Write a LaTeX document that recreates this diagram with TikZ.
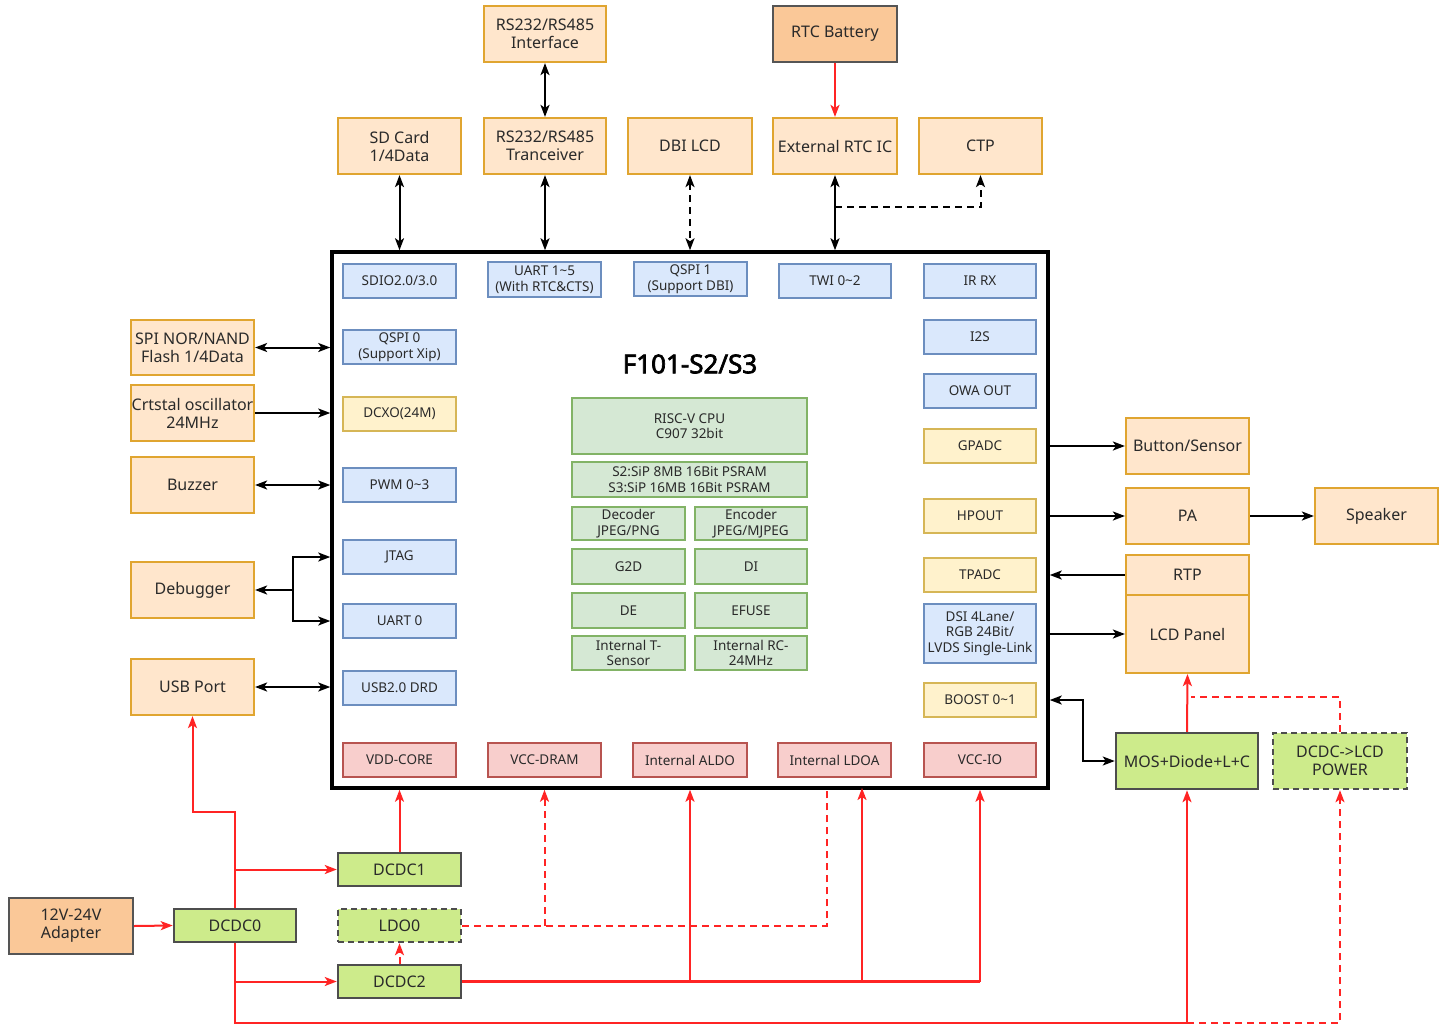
\documentclass[tikz,border=0pt]{standalone}
\usepackage{fontspec}
\setmainfont{Noto Sans}
\newfontfamily\titlefont{Noto Sans}[FakeBold=2.5]
\usetikzlibrary{arrows.meta}
\definecolor{orF}{HTML}{FFE6CC}
\definecolor{orD}{HTML}{E0A530}
\definecolor{btF}{HTML}{FAC898}
\definecolor{btD}{HTML}{555555}
\definecolor{blF}{HTML}{DAE8FC}
\definecolor{blD}{HTML}{6C8EBF}
\definecolor{yeF}{HTML}{FFF2CC}
\definecolor{yeD}{HTML}{D6B656}
\definecolor{piF}{HTML}{F8CECC}
\definecolor{piD}{HTML}{B85450}
\definecolor{lgF}{HTML}{D5E8D4}
\definecolor{lgD}{HTML}{82B366}
\definecolor{pgF}{HTML}{CDEB8B}
\definecolor{pgD}{HTML}{4D4D4D}
\definecolor{wire}{HTML}{FF2424}
\definecolor{txt}{HTML}{2A2A2A}
\newcommand{\mybox}[7]{\node[#2, minimum width={(#5-#3)*1pt}, minimum height={(#6-#4)*1pt}] (#1) at ({(#3+#5)/2},{(#4+#6)/2}) {#7};}
\tikzset{
  ext/.style={draw=orD, fill=orF, line width=2.2pt, text=txt, font=\fontsize{16}{18}\selectfont, align=center, inner sep=0pt},
  bat/.style={ext, draw=btD, fill=btF},
  ib/.style={draw=blD, fill=blF, line width=1.8pt, text=txt, font=\fontsize{13.5}{15.5}\selectfont, align=center, inner sep=0pt},
  iy/.style={ib, draw=yeD, fill=yeF},
  ip/.style={ib, draw=piD, fill=piF},
  ig/.style={ib, draw=lgD, fill=lgF},
  pw/.style={draw=pgD, fill=pgF, line width=2.5pt, text=txt, font=\fontsize{16}{18}\selectfont, align=center, inner sep=0pt},
  pwd/.style={pw, dash pattern=on 6pt off 4pt},
  chipbox/.style={draw=black, line width=3.5pt, inner sep=0pt},
  cn/.style={draw=black, line width=2pt},
  rd/.style={draw=wire, line width=2pt},
  dsh/.style={dash pattern=on 7pt off 5pt},
  tip/.style={-{Stealth[length=12pt,width=9pt,inset=3pt]}},
  bi/.style={{Stealth[length=12pt,width=9pt,inset=3pt]}-{Stealth[length=12pt,width=9pt,inset=3pt]}}
}
\begin{document}
\begin{tikzpicture}[x=1pt,y=-1pt]
\useasboundingbox[fill=white] (0,0) rectangle (1446,1028);
% chip
\mybox{chip}{chipbox}{332}{252}{1048}{788}{}
\node[text=black, font=\fontsize{26}{30}\titlefont] (title) at (690,364) {F101-S2/S3};
% top external
\mybox{rsi}{ext}{484}{6}{606}{62}{RS232/RS485\\Interface}
\mybox{bat}{bat}{773}{6}{897}{62}{RTC Battery}
\mybox{sd}{ext}{338}{118}{461}{174}{SD Card\\1/4Data}
\mybox{rst}{ext}{484}{118}{606}{174}{RS232/RS485\\Tranceiver}
\mybox{dbi}{ext}{628}{118}{752}{174}{DBI LCD}
\mybox{rtc}{ext}{773}{118}{897}{174}{External RTC IC}
\mybox{ctp}{ext}{919}{118}{1042}{174}{CTP}
% inner top row
\mybox{sdio}{ib}{343}{264}{456}{298}{SDIO2.0/3.0}
\mybox{uart}{ib}{488}{262}{601}{297}{UART 1\textasciitilde 5\\(With RTC\&CTS)}
\mybox{qspi1}{ib}{634}{262}{747}{296}{QSPI 1\\(Support DBI)}
\mybox{twi}{ib}{779}{264}{891}{298}{TWI 0\textasciitilde 2}
\mybox{irrx}{ib}{924}{264}{1036}{298}{IR RX}
% inner left col
\mybox{qspi0}{ib}{343}{330}{456}{364}{QSPI 0\\(Support Xip)}
\mybox{dcxo}{iy}{343}{397}{456}{431}{DCXO(24M)}
\mybox{pwm}{ib}{343}{468}{456}{502}{PWM 0\textasciitilde 3}
\mybox{jtag}{ib}{343}{540}{456}{574}{JTAG}
\mybox{uart0}{ib}{343}{604}{456}{638}{UART 0}
\mybox{usbd}{ib}{343}{671}{456}{705}{USB2.0 DRD}
% inner right col
\mybox{i2s}{ib}{924}{320}{1036}{354}{I2S}
\mybox{owa}{ib}{924}{374}{1036}{408}{OWA OUT}
\mybox{gpadc}{iy}{924}{429}{1036}{463}{GPADC}
\mybox{hpout}{iy}{924}{499}{1036}{533}{HPOUT}
\mybox{tpadc}{iy}{924}{558}{1036}{592}{TPADC}
\mybox{dsi}{ib}{924}{604}{1036}{663}{DSI 4Lane/\\RGB 24Bit/\\LVDS Single-Link}
\mybox{boost}{iy}{924}{683}{1036}{717}{BOOST 0\textasciitilde 1}
% inner bottom row
\mybox{vdd}{ip}{343}{743}{456}{777}{VDD-CORE}
\mybox{dram}{ip}{488}{743}{601}{777}{VCC-DRAM}
\mybox{aldo}{ip}{633}{743}{747}{777}{Internal ALDO}
\mybox{ldoa}{ip}{778}{743}{891}{777}{Internal LDOA}
\mybox{vccio}{ip}{924}{743}{1036}{777}{VCC-IO}
% center blocks
\mybox{cpu}{ig}{572}{398}{807}{454}{RISC-V CPU\\C907 32bit}
\mybox{psram}{ig}{572}{462}{807}{497}{S2:SiP 8MB 16Bit PSRAM\\S3:SiP 16MB 16Bit PSRAM}
\mybox{dec}{ig}{572}{507}{685}{540}{Decoder\\JPEG/PNG}
\mybox{enc}{ig}{695}{507}{807}{540}{Encoder\\JPEG/MJPEG}
\mybox{g2d}{ig}{572}{549}{685}{584}{G2D}
\mybox{di}{ig}{695}{549}{807}{584}{DI}
\mybox{de}{ig}{572}{593}{685}{628}{DE}
\mybox{efuse}{ig}{695}{593}{807}{628}{EFUSE}
\mybox{tsen}{ig}{572}{636}{685}{670}{Internal T-\\Sensor}
\mybox{rc}{ig}{695}{636}{807}{670}{Internal RC-\\24MHz}
% left external
\mybox{spi}{ext}{131}{320}{254}{375}{SPI NOR/NAND\\Flash 1/4Data}
\mybox{osc}{ext}{131}{385}{254}{441}{Crtstal oscillator\\24MHz}
\mybox{buz}{ext}{131}{457}{254}{513}{Buzzer}
\mybox{dbg}{ext}{131}{562}{254}{618}{Debugger}
\mybox{usb}{ext}{131}{659}{254}{715}{USB Port}
% right external
\mybox{btn}{ext}{1126}{418}{1249}{474}{Button/Sensor}
\mybox{pa}{ext}{1126}{488}{1249}{544}{PA}
\mybox{spk}{ext}{1315}{488}{1438}{544}{Speaker}
\mybox{rtp}{ext}{1126}{555}{1249}{595}{RTP}
\mybox{lcd}{ext}{1126}{595}{1249}{673}{LCD Panel}
\mybox{mos}{pw}{1116}{733}{1258}{789}{MOS+Diode+L+C}
\mybox{lcdp}{pwd}{1273}{733}{1407}{789}{DCDC->LCD\\POWER}
% power
\mybox{adp}{bat}{9}{898}{133}{954}{12V-24V\\Adapter}
\mybox{dc0}{pw}{174}{909}{296}{942}{DCDC0}
\mybox{dc1}{pw}{338}{853}{461}{886}{DCDC1}
\mybox{ldo}{pwd}{338}{909}{461}{942}{LDO0}
\mybox{dc2}{pw}{338}{965}{461}{998}{DCDC2}
% coordinates
\coordinate (ctpj) at (835,207);
\coordinate (dj) at (293,590);
\coordinate (bj) at (1083,700);
\coordinate (lj) at (1191,697);
\coordinate (u1) at (235,812);
\coordinate (bot) at (235,1023);
\coordinate (lt) at (827,788);
\coordinate (la) at (862,788);
% top connectors
\draw[rd,tip] (bat.south) -- (rtc.north);
\draw[cn,bi] (rsi.south) -- (rst.north);
\draw[cn,bi] (sd.south) -- (sd.south |- chip.north);
\draw[cn,bi] (rst.south) -- (rst.south |- chip.north);
\draw[cn,bi,dsh] (dbi.south) -- (dbi.south |- chip.north);
\draw[cn,bi] (rtc.south) -- (rtc.south |- chip.north);
\draw[cn,tip,dsh] (ctpj) -| (ctp.south);
% left connectors
\draw[cn,bi] (spi.east) -- (chip.west |- spi.east);
\draw[cn,tip] (osc.east) -- (chip.west |- osc.east);
\draw[cn,bi] (buz.east) -- (chip.west |- buz.east);
\draw[cn,tip] (dj) -- (dbg.east);
\draw[cn,tip] (dj) |- (chip.west |- jtag);
\draw[cn,tip] (dj) |- (chip.west |- uart0);
\draw[cn,bi] (usb.east) -- (chip.west |- usb.east);
% right connectors
\draw[cn,tip] (chip.east |- btn.west) -- (btn.west);
\draw[cn,tip] (chip.east |- pa.west) -- (pa.west);
\draw[cn,tip] (pa.east) -- (spk.west);
\draw[cn,tip] (rtp.west) -- (chip.east |- rtp.west);
\draw[cn,tip] (chip.east |- lcd.west) -- (lcd.west);
\draw[cn,bi] (chip.east |- bj) -- (bj) |- (mos.west);
\draw[rd,tip] (mos.north) -- (lcd.south);
\draw[rd,dsh] (lcdp.north) |- (lj);
% power connectors
\draw[rd,tip] (adp.east) -- (dc0.west);
\draw[rd,tip] (dc0.north) |- (usb.south |- u1) -- (usb.south);
\draw[rd,tip] (dc0.north |- dc1.west) -- (dc1.west);
\draw[rd,tip] (dc0.south) |- (mos.south |- bot) -- (mos.south);
\draw[rd,tip] (dc0.south |- dc2.west) -- (dc2.west);
\draw[rd,tip,dsh] (mos.south |- bot) -| (lcdp.south);
\draw[rd,tip] (dc1.north) -- (dc1.north |- chip.south);
\draw[rd,tip,dsh] (dc2.north) -- (ldo.south);
\draw[rd,dsh] (ldo.east) -| (lt);
\draw[rd,tip,dsh] (dram.south |- ldo.east) -- (dram.south |- chip.south);
\draw[rd,line width=2.6pt] (dc2.east) -- (vccio.south |- dc2.east);
\draw[rd,tip] (vccio.south |- dc2.east) -- (vccio.south |- chip.south);
\draw[rd,tip] (aldo.south |- dc2.east) -- (aldo.south |- chip.south);
\draw[rd,tip] (la |- dc2.east) -- (la);
\end{tikzpicture}
\end{document}
